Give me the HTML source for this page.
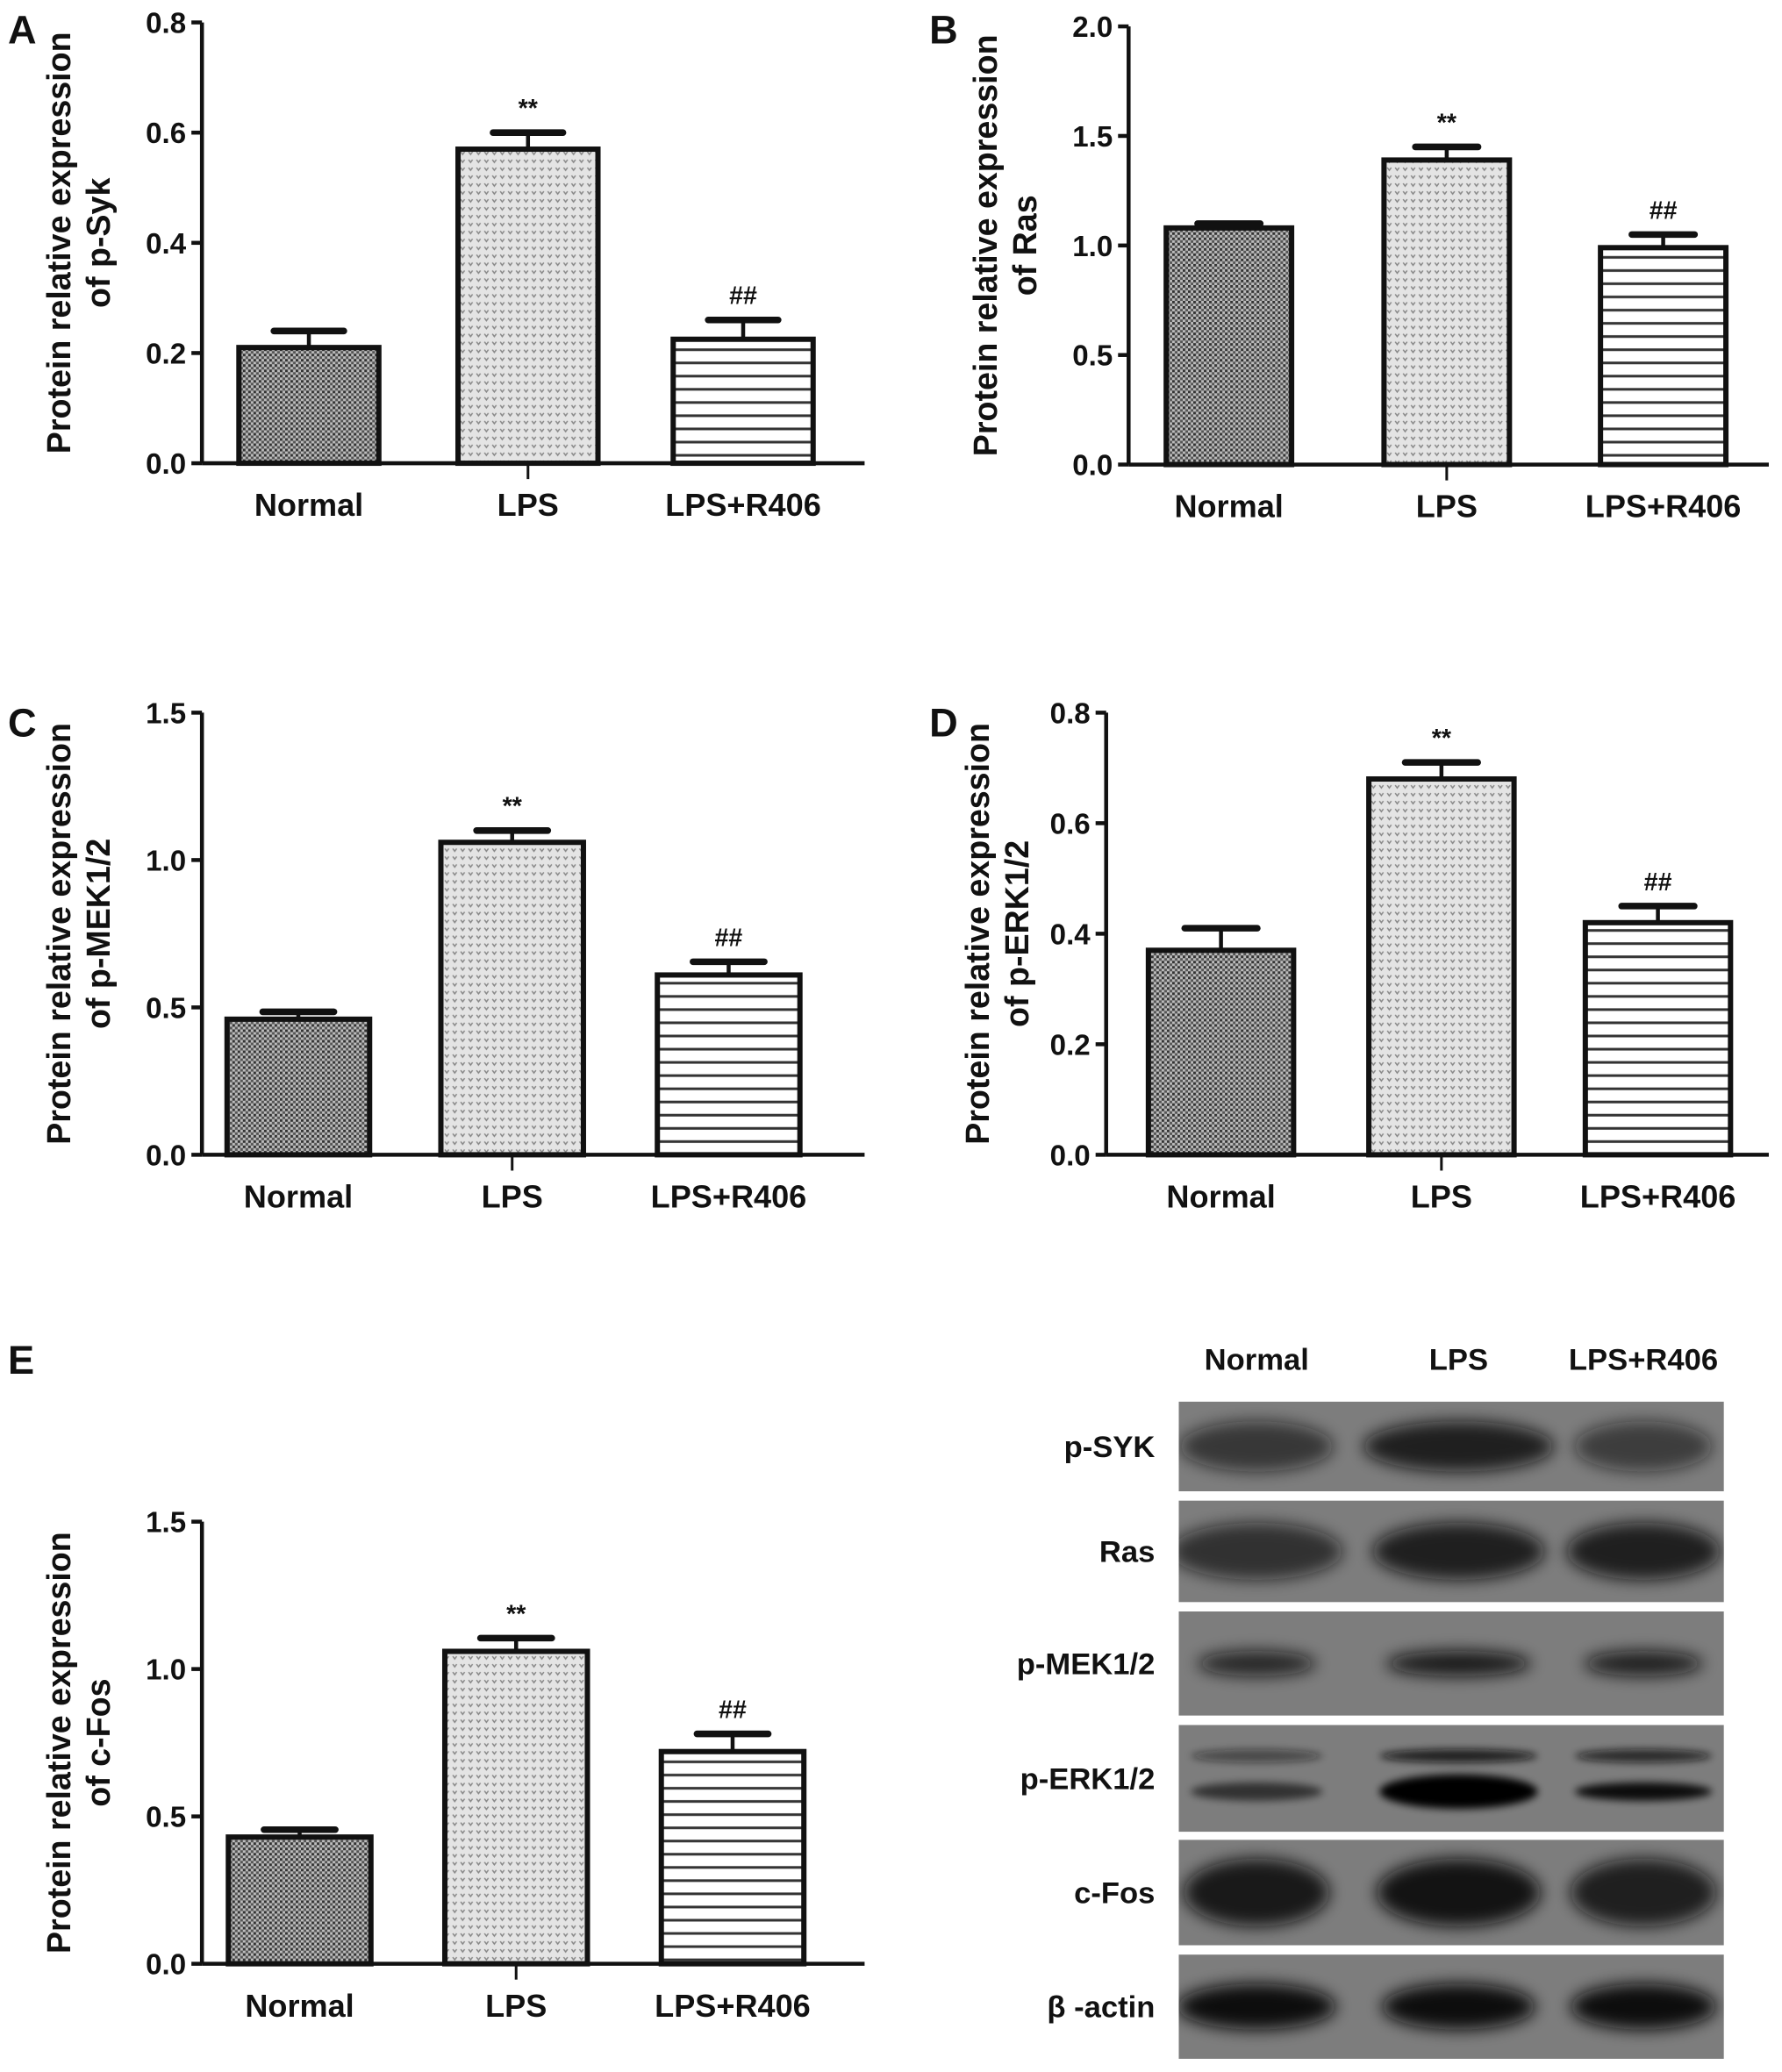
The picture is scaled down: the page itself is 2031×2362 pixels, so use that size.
<!DOCTYPE html>
<html><head><meta charset="utf-8"><style>
html,body{margin:0;padding:0;background:#fff}
svg{display:block}
text{font-family:"Liberation Sans",sans-serif;font-weight:bold;fill:#111}
.nar{font-family:"Liberation Sans Narrow","Liberation Sans",sans-serif}
</style></head><body>
<svg id="fig" width="2031" height="2362" viewBox="0 0 1350 1570" preserveAspectRatio="none" xmlns="http://www.w3.org/2000/svg">
<defs>
<pattern id="pNormal" width="4" height="4" patternUnits="userSpaceOnUse"><rect width="4" height="4" fill="#bdbdbd"/><rect width="2" height="2" fill="#333"/><rect x="2" y="2" width="2" height="2" fill="#555"/></pattern>
<pattern id="pLPS" width="6" height="6" patternUnits="userSpaceOnUse"><rect width="6" height="6" fill="#e4e4e4"/><path d="M1 1 L2.5 3 L4 1" stroke="#888" stroke-width="1" fill="none"/></pattern>
<pattern id="pR406" width="6" height="10" patternUnits="userSpaceOnUse"><rect width="6" height="10" fill="#fff"/><rect y="4" width="6" height="2" fill="#333"/></pattern>
<filter id="blur" x="-50%" y="-100%" width="200%" height="300%"><feGaussianBlur stdDeviation="6"/></filter>
<filter id="blur2" x="-50%" y="-200%" width="200%" height="500%"><feGaussianBlur stdDeviation="3"/></filter>
</defs>
<g id="charts"></g>
<g id="blot"></g>
</svg>
<script>
const categories = ["Normal","LPS","LPS+R406"];
const valuesA = [0.21, 0.57, 0.225];
const errorsA = [0.03, 0.03, 0.035];
const valuesB = [1.08, 1.39, 0.99];
const errorsB = [0.02, 0.06, 0.06];
const valuesC = [0.46, 1.06, 0.61];
const errorsC = [0.025, 0.04, 0.045];
const valuesD = [0.37, 0.68, 0.42];
const errorsD = [0.04, 0.03, 0.03];
const valuesE = [0.43, 1.06, 0.72];
const errorsE = [0.025, 0.045, 0.06];
const ticksA = ["0.0","0.2","0.4","0.6","0.8"];
const ticksB = ["0.0","0.5","1.0","1.5","2.0"];
const ticksC = ["0.0","0.5","1.0","1.5"];
const ticksD = ["0.0","0.2","0.4","0.6","0.8"];
const ticksE = ["0.0","0.5","1.0","1.5"];
const marks = ["", "**", "##"];
const blotRows = ["p-SYK","Ras","p-MEK1/2","p-ERK1/2","c-Fos","β -actin"];

const NS="http://www.w3.org/2000/svg";
function mk(tag,attrs,parent){const e=document.createElementNS(NS,tag);for(const k in attrs)e.setAttribute(k,attrs[k]);parent.appendChild(e);return e;}
const pats=["url(#pNormal)","url(#pLPS)","url(#pR406)"];

function chart(cfg){
  const root=document.getElementById('charts');
  const g=mk('g',{},root);
  
  
  const ymax=parseFloat(cfg.ticks[cfg.ticks.length-1]);
  const y=v=>cfg.y0-(v/ymax)*(cfg.y0-cfg.yTop);
  const bw=cfg.bw;
  const xc=i=>cfg.barX[i];
  const L=mk('text',{x:cfg.lx,y:cfg.ly,'font-size':30},g);L.textContent=cfg.id;
  
  
  const t=mk('text',{transform:`translate(${cfg.ax-cfg.toff},${(cfg.y0+cfg.yTop)/2}) rotate(-90)`,'text-anchor':'middle','font-size':25},g);
  
  
  const t1=mk('tspan',{x:0,dy:-14},t);t1.textContent="Protein relative expression";
  const t2=mk('tspan',{x:0,dy:30},t);t2.textContent="of "+cfg.target;
  cfg.values.forEach((v,i)=>{
    const cx=xc(i);
    const top=y(v);
    const eb=y(v+cfg.errors[i]);
    const e=mk('line',{x1:cx,x2:cx,y1:top,y2:eb,stroke:'#111','stroke-width':3},g);
    
    
    const c=mk('line',{x1:cx-bw*0.25,x2:cx+bw*0.25,y1:eb,y2:eb,stroke:'#111','stroke-width':5,'stroke-linecap':'round'},g);
    
    
    const r=mk('rect',{x:cx-bw/2,y:top,width:bw,height:cfg.y0-top,fill:pats[i],stroke:'#111','stroke-width':4},g);
    
    
    if(marks[i]){const m=mk('text',{x:cx,y:eb-12,'text-anchor':'middle','font-size':19,class:'nar'},g);m.textContent=marks[i];
      
      }
    const lb=mk('text',{x:cx,y:cfg.y0+40,'text-anchor':'middle','font-size':24,class:'nar'},g);lb.textContent=categories[i];
    
    
  });
  const ya=mk('line',{x1:cfg.ax,x2:cfg.ax,y1:cfg.yTop,y2:cfg.y0,stroke:'#111','stroke-width':3},g);
  
  
  const xa=mk('line',{x1:cfg.ax,x2:cfg.axEnd,y1:cfg.y0,y2:cfg.y0,stroke:'#111','stroke-width':3},g);
  
  
  mk('line',{x1:xc(1),x2:xc(1),y1:cfg.y0,y2:cfg.y0+12,stroke:'#111','stroke-width':2},g);
  cfg.ticks.forEach(tk=>{
    const yy=y(parseFloat(tk));
    mk('line',{x1:cfg.ax-8,x2:cfg.ax,y1:yy,y2:yy,stroke:'#111','stroke-width':3},g);
    const tl=mk('text',{x:cfg.ax-12,y:yy+8,'text-anchor':'end','font-size':22,class:'nar'},g);tl.textContent=tk;
    
    
  });
}
chart({id:'A',target:'p-Syk',values:valuesA,errors:errorsA,ticks:ticksA,ax:153,axEnd:655,yTop:17,y0:351,barX:[234,400,563],bw:106,lx:6,ly:33,toff:86});
chart({id:'B',target:'Ras',values:valuesB,errors:errorsB,ticks:ticksB,ax:855,axEnd:1340,yTop:20,y0:352,barX:[931,1096,1260],bw:95,lx:704,ly:33,toff:86});
chart({id:'C',target:'p-MEK1/2',values:valuesC,errors:errorsC,ticks:ticksC,ax:153,axEnd:655,yTop:540,y0:875,barX:[226,388,552],bw:108,lx:6,ly:558,toff:86});
chart({id:'D',target:'p-ERK1/2',values:valuesD,errors:errorsD,ticks:ticksD,ax:838,axEnd:1340,yTop:540,y0:875,barX:[925,1092,1256],bw:110,lx:704,ly:558,toff:75});
chart({id:'E',target:'c-Fos',values:valuesE,errors:errorsE,ticks:ticksE,ax:153,axEnd:655,yTop:1153,y0:1488,barX:[227,391,555],bw:108,lx:6,ly:1041,toff:86});

const blot=document.getElementById('blot');
const laneX=[952,1105,1245];
["Normal","LPS","LPS+R406"].forEach((s,i)=>{const t=mk('text',{x:laneX[i],y:1038,'text-anchor':'middle','font-size':23},blot);t.textContent=s;
  
  });
const rowTop=[1062,1137,1221,1307,1394,1481];
const rowH=[68,77,79,81,80,79];
const intens=[[0.65,0.85,0.6],[0.7,0.85,0.85],[0.8,0.9,0.85],[0.6,1,0.9],[0.9,0.95,0.85],[1,1,1]];
const bandH=[0.28,0.28,0.12,0.1,0.32,0.22];
const bandW=[[58,72,52],[65,65,58],[45,55,45],[50,60,52],[55,62,55],[60,58,55]];
blotRows.forEach((name,r)=>{
  const g=mk('g',{},blot);
  
  
  const cp=mk('clipPath',{id:'cp'+r},g);
  mk('rect',{x:893,y:rowTop[r],width:413,height:rowH[r]},cp);
  const inner=mk('g',{'clip-path':'url(#cp'+r+')'},g);
  mk('rect',{x:893,y:rowTop[r],width:413,height:rowH[r],fill:'#7d7d7d'},inner);
  const cy=rowTop[r]+rowH[r]/2;
  laneX.forEach((lx,i)=>{
    const a=intens[r][i];
    if(r===3){
      mk('ellipse',{cx:lx,cy:cy-17,rx:bandW[r][i],ry:5,fill:'#111','fill-opacity':a*0.85,filter:'url(#blur2)'},inner);
      mk('ellipse',{cx:lx,cy:cy+10,rx:bandW[r][i],ry:i===1?13:7,fill:'#000','fill-opacity':a,filter:'url(#blur2)'},inner);
    } else {
      mk('ellipse',{cx:lx,cy:cy,rx:bandW[r][i],ry:rowH[r]*bandH[r],fill:'#111','fill-opacity':a,filter:'url(#blur)'},inner);
    }
  });
  const t=mk('text',{x:875,y:cy+8,'text-anchor':'end','font-size':23},g);t.textContent=name;
  
  
});
</script>
</body></html>
